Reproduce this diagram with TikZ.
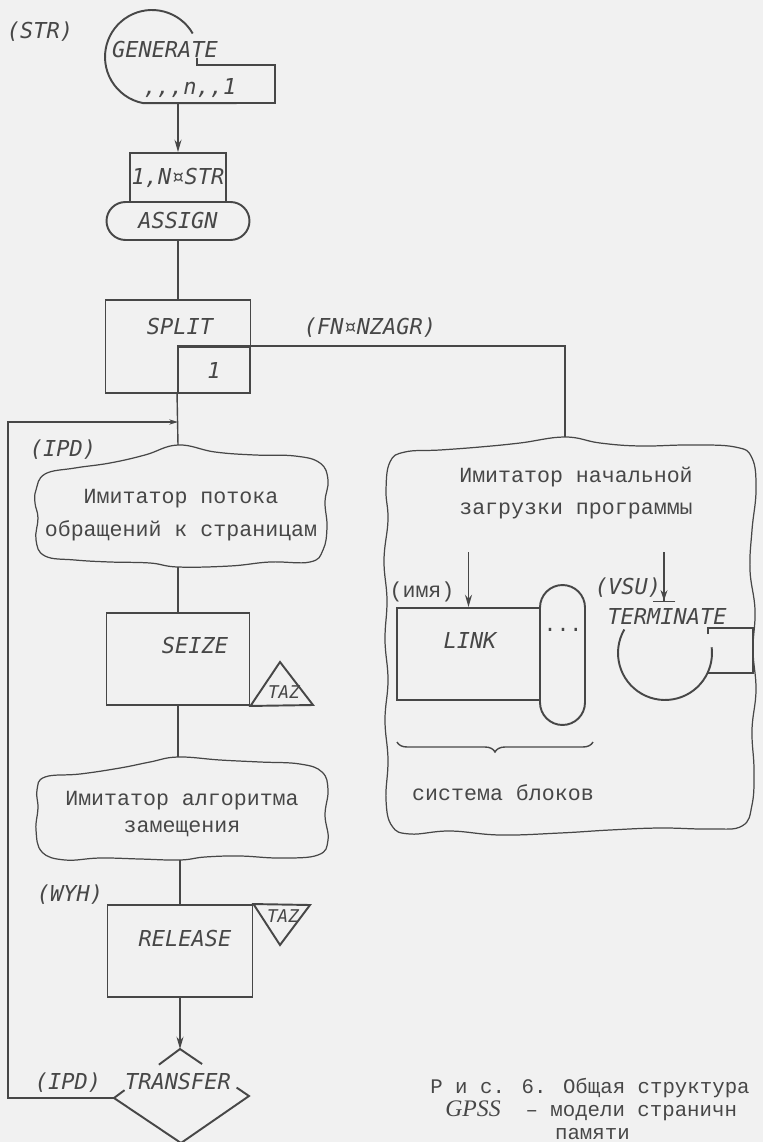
\documentclass[tikz,border=0pt]{standalone}
\usepackage{fontspec}
\usepackage{tikz}
\usetikzlibrary{calc,arrows.meta,decorations.pathreplacing}
\setmainfont{Liberation Serif}
\newfontfamily\typew{Liberation Mono}
\newfontfamily\handw{DejaVu Sans Mono}
\newfontfamily\gpssfont{Liberation Serif}
\definecolor{ink}{HTML}{474747}
\definecolor{paper}{HTML}{F1F1F1}
\tikzset{blk/.style={draw=ink,line width=1.1pt,inner sep=0pt}}
\tikzset{ln/.style={draw=ink,line width=0.8pt}}
\tikzset{cld/.style={draw=ink,line width=0.7pt}}
\tikzset{hw/.style={font=\handw\itshape\fontsize{12.5}{14}\selectfont,text=ink,inner sep=1pt}}
\tikzset{tz/.style={hw,font=\handw\itshape\fontsize{10}{12}\selectfont}}
\tikzset{tw/.style={font=\typew\fontsize{12.3}{18.7}\selectfont,text=ink,inner sep=1pt,align=center}}
\tikzset{captxt/.style={tw,align=left,anchor=south west,inner sep=0pt,font=\typew\fontsize{11.8}{13}\selectfont}}

\begin{document}
\begin{tikzpicture}[x=0.02cm,y=-0.02cm]
\useasboundingbox (0,0) rectangle (763,1142);
\fill[paper] (0,0) rectangle (763,1142);
% GENERATE
\node[hw] (str) at (40,32) {(STR)};
\node[hw] (gentxt) at (165,50) {GENERATE};
\node[hw] (genpar) at (190,88) {,,,n,,1};
\draw[blk] (192.7,33.5) arc[start angle=30,end angle=259,radius=0.94cm] -- (275,103) -- (275,65) -- (197,65) -- (197,58);
\coordinate (gen) at (178,103);
% ASSIGN
\node[blk,hw,minimum width=1.86cm,minimum height=0.98cm] (asgpar) at (178,177.5) {1,N¤STR};
\node[blk,hw,rounded corners=0.38cm,minimum width=2.86cm,minimum height=0.76cm] (asg) at (178,221) {ASSIGN};
% SPLIT
\node[blk,minimum width=2.9cm,minimum height=1.86cm] (split) at (178,346.5) {};
\node[hw] (splittxt) at (180,327) {SPLIT};
\node[blk,hw,minimum width=1.44cm,minimum height=0.92cm] (splitout) at (214,370) {1};
\node[hw] (nzagr) at (370,328) {(FN¤NZAGR)};
% first cloud
\coordinate (ipdtop) at (178,445); \coordinate (ipdbot) at (178,567);
\draw[cld] plot[smooth cycle,tension=0.7] coordinates {(36,490) (45,474) (75,468) (110,463) (145,455) (178,445) (215,452) (255,455) (295,456) (320,463) (328,480) (325,502) (327,527) (323,550) (310,562) (270,562) (230,566) (178,567) (150,563) (110,562) (75,560) (45,556) (36,540) (38,518) (35,503)};
\node[hw] (ipdlbl) at (63,450) {(IPD)};
\node[tw] (ipd) at (181,515) {Имитатор потока\\обращений к страницам};
% SEIZE
\node[blk,minimum width=2.86cm,minimum height=1.84cm] (seize) at (178,659) {};
\node[hw] (seizetxt) at (195,645) {SEIZE};
\draw[blk] (seize.south east) -- (280,662) -- (313,705) -- cycle;
\node[tz] (taz1) at (284,692) {TAZ};
% second cloud
\coordinate (repltop) at (178,757); \coordinate (replbot) at (180,860);
\draw[cld] plot[smooth cycle,tension=0.7] coordinates {(37,790) (45,777) (80,774) (120,768) (150,762) (178,757) (220,760) (260,762) (300,764) (322,772) (328,790) (325,815) (328,840) (318,855) (280,858) (240,856) (205,857) (180,860) (140,859) (100,858) (65,860) (42,852) (36,830) (38,808)};
\node[tw,font=\typew\fontsize{12.3}{15.8}\selectfont] (repl) at (182,814) {Имитатор алгоритма\\замещения};
% RELEASE
\node[hw] (wyh) at (70,895) {(WYH)};
\node[blk,minimum width=2.9cm,minimum height=1.84cm] (release) at (180,951) {};
\node[hw] (reltxt) at (185,938) {RELEASE};
\draw[blk] (release.north east) -- (310,905) -- (280,945) -- cycle;
\node[tz] (taz2) at (283,916) {TAZ};
% TRANSFER
\coordinate (trT) at (180,1049); \coordinate (trL) at (114,1098);
\coordinate (trR) at (249,1096); \coordinate (trB) at (181,1143);
\draw[blk] ($(trT)!0.32!(trL)$) -- (trT) -- ($(trT)!0.32!(trR)$);
\draw[blk] ($(trL)!0.16!(trT)$) -- (trL) -- (trB) -- (trR) -- ($(trR)!0.18!(trT)$);
\node[hw] (trtxt) at (178,1081) {TRANSFER};
\node[hw] (ipdlbl2) at (68,1083) {(IPD)};
\coordinate (join) at (178,422);
% right cloud
\coordinate (zagr) at (565,437);
\draw[cld] plot[smooth cycle,tension=0.7] coordinates {(390,462) (405,452) (440,450) (480,447) (520,443) (565,437) (600,443) (640,446) (690,445) (735,447) (752,458) (756,490) (752,530) (750,570) (755,610) (753,650) (756,690) (752,730) (754,770) (752,805) (742,826) (710,829) (660,828) (610,830) (560,833) (500,835) (450,831) (410,834) (392,826) (386,800) (388,760) (385,720) (388,680) (385,640) (387,600) (384,560) (388,520) (386,490)};
\node[tw] (load) at (576,493) {Имитатор начальной\\загрузки программы};
\node[blk,rounded corners=0.45cm,minimum width=0.9cm,minimum height=2.8cm] (lnkrest) at (562.5,655) {};
\node[tw] (dots) at (563,630) {...};
\node[blk,minimum width=2.86cm,minimum height=1.84cm] (link) at (468.5,654) {};
\node[hw] (linktxt) at (470,640) {LINK};
\node[tw] (imya) at (422,592) {(имя)};
\coordinate (linkin) at (468.5,552);
\draw[ln,decorate,decoration={brace,amplitude=0.2cm}] (593,742) -- (397,742);
\node[tw] (sysblk) at (503,793) {система блоков};
\node[hw] (vsu) at (628,588) {(VSU)};
\coordinate (termin) at (664,552); \coordinate (termtop) at (664,602);
\node[hw] (term) at (667,616) {TERMINATE};
\draw[blk] (624.3,629.5) arc[start angle=150,end angle=367,radius=0.94cm];
\draw[blk] (708,634) -- (708,628) -- (753,628) -- (753,673) -- (707.5,673);
% connectors
\draw[ln,-{Stealth[length=7pt,width=4pt]}] (gen) -- (asgpar.north);
\draw[ln] (asg.south) -- (split.north);
\draw[ln] (splitout.north west) -| (zagr);
\draw[ln] (splitout.south west) -- (ipdtop);
\draw[ln] (ipdbot) -- (seize.north);
\draw[ln] (seize.south) -- (repltop);
\draw[ln] (replbot) -- (release.north);
\draw[ln,-{Stealth[length=7pt,width=4pt]}] (release.south) -- (trT);
\draw[ln,-{Stealth[length=5pt,width=3pt]}] (trL) -| (8,422) -- (join);
\draw[ln,-{Stealth[length=7pt,width=4pt]}] (linkin) -- (link.north);
\draw[ln,-{Stealth[length=6pt,width=4pt]Bar[width=13pt]}] (termin) -- (termtop);
% caption
\node[captxt] (caption) at (430,1140) {Р и с. 6. Общая структура\\
\hspace{8.5pt}{\gpssfont\itshape\fontsize{13.5}{13}\selectfont GPSS}\ \ – модели страничн\\
\hspace{71pt}памяти};
\end{tikzpicture}
\end{document}
